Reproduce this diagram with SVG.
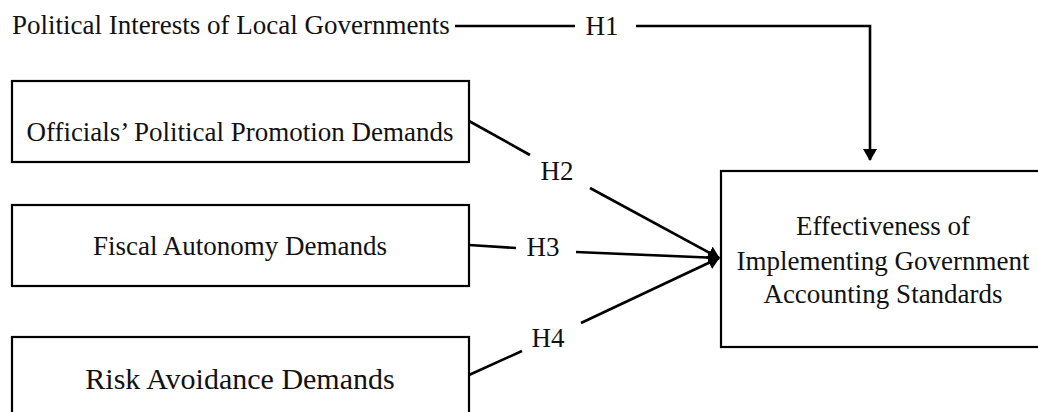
<svg xmlns="http://www.w3.org/2000/svg" width="1038" height="412" viewBox="0 0 1038 412">
<style>
.t{font-family:"Liberation Serif","Times New Roman",serif;font-size:27px;fill:#111;}
.box{fill:#fff;stroke:#000;stroke-width:2.2;}
.ln{fill:none;stroke:#000;stroke-width:2.6;}
</style>
<defs>
<marker id="ah" markerWidth="12" markerHeight="14" refX="11" refY="7" orient="auto" markerUnits="userSpaceOnUse">
<path d="M0,0 L12,7 L0,14 Z" fill="#000"/>
</marker>
</defs>
<rect width="1038" height="412" fill="#fff"/>
<g id="connectors">
<path class="ln" d="M455,26 L575,26"/>
<path class="ln" d="M636,26 L870,26 L870,160" marker-end="url(#ah)"/>
<path class="ln" d="M469,121 L530,155"/>
<path class="ln" d="M590,188 L719,258" marker-end="url(#ah)"/>
<path class="ln" d="M469,245 L516,248"/>
<path class="ln" d="M576,252 L719,258" marker-end="url(#ah)"/>
<path class="ln" d="M469,375 L522,351"/>
<path class="ln" d="M581,323 L719,258" marker-end="url(#ah)"/>
<text class="t" x="602" y="35" text-anchor="middle">H1</text>
<text class="t" x="557" y="180" text-anchor="middle">H2</text>
<text class="t" x="543" y="256" text-anchor="middle">H3</text>
<text class="t" x="548" y="347" text-anchor="middle">H4</text>
</g>
<g id="node-political">
<text class="t" x="12" y="34">Political Interests of Local Governments</text>
</g>
<g id="node-officials">
<rect class="box" x="12" y="81" width="457" height="81"/>
<text class="t" x="240" y="141" text-anchor="middle">Officials’ Political Promotion Demands</text>
</g>
<g id="node-fiscal">
<rect class="box" x="12" y="205" width="457" height="81"/>
<text class="t" x="240" y="255" text-anchor="middle">Fiscal Autonomy Demands</text>
</g>
<g id="node-risk">
<rect class="box" x="12" y="337" width="457" height="90"/>
<text class="t" x="240" y="389" text-anchor="middle" style="font-size:30px">Risk Avoidance Demands</text>
</g>
<g id="node-effectiveness">
<rect class="box" x="721" y="171" width="330" height="176"/>
<text class="t" x="883" y="235" text-anchor="middle">Effectiveness of</text>
<text class="t" x="883" y="270" text-anchor="middle">Implementing Government</text>
<text class="t" x="883" y="303" text-anchor="middle">Accounting Standards</text>
</g>
</svg>
